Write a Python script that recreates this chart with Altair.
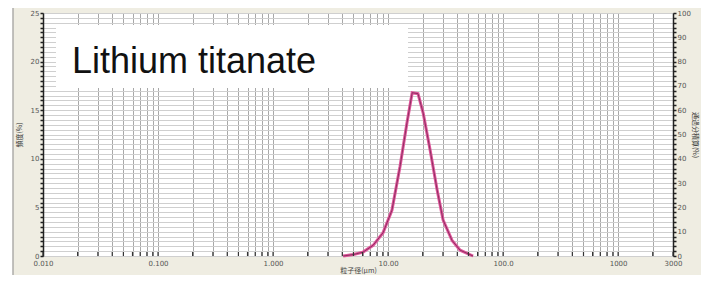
import altair as alt
import pandas as pd

# ---- data ----
sizes_um = [4.07, 5.0, 6.06, 7.41, 9.05, 10.8, 12.7, 14.6, 16.2, 18.2, 20.2, 23.2, 26.7, 30.1, 36.0, 42.3, 54.8]
freq_pct = [0.0, 0.15, 0.4, 1.1, 2.4, 4.7, 9.2, 13.7, 16.8, 16.7, 14.7, 10.9, 6.8, 3.7, 1.6, 0.6, 0.0]

x_domain = [0.01, 3000]
x_ticks = [round(m * 10 ** d, 6) for d in range(-2, 4) for m in range(1, 10) if m * 10 ** d <= 3000]
x_label_values = [0.01, 0.1, 1, 10, 100, 1000, 3000]
x_label_texts = ["0.010", "0.100", "1.000", "10.00", "100.0", "1000", "3000"]

y_left_ticks = [i * 0.5 for i in range(51)]
y_right_ticks = list(range(0, 101, 2))

title_text = "Lithium titanate"
x_title = "粒子径(µm)"
y_left_title = "頻度(%)"
y_right_title = "通過分積算(%)"

W, H = 630, 243

curve = pd.DataFrame({"size": sizes_um, "freq": freq_pct})
ticks_df = pd.DataFrame({"size": x_ticks})
one = pd.DataFrame({"a": [0]})
right_df = pd.DataFrame({"cum": [0, 100]})

xlab_expr = " : ".join(
    f"datum.value == {v} ? '{t}'" for v, t in zip(x_label_values, x_label_texts)
) + " : ''"
yl_expr = "datum.value % 5 == 0 ? format(datum.value, 'd') : ''"
yr_expr = "datum.value % 10 == 0 ? format(datum.value, 'd') : ''"

x_scale = alt.Scale(type="log", domain=x_domain, nice=False)
y_scale = alt.Scale(domain=[0, 25], nice=False, zero=True)

x_axis = alt.Axis(
    values=x_ticks,
    labelExpr=xlab_expr,
    title=x_title,
    grid=True,
    gridColor="#a8a8a8",
    gridWidth=1,
    tickSize=0,
    domain=False,
    labelPadding=3,
    labelFontSize=7,
    labelColor="#555",
    labelFont="DejaVu Sans",
    titleFontSize=7,
    titleFontWeight="normal",
    titleColor="#444",
    titleFont="Noto Sans CJK JP",
    titlePadding=0,
    labelOverlap=False,
    labelFlush=False,
)
y_axis = alt.Axis(
    values=y_left_ticks,
    labelExpr=yl_expr,
    title=y_left_title,
    grid=True,
    gridColor="#cfcfcf",
    gridWidth=1,
    tickSize=3,
    tickColor="#222",
    tickWidth=1.5,
    domainColor="#222",
    domainWidth=1.5,
    labelPadding=1,
    labelFontSize=7,
    labelColor="#555",
    labelFont="DejaVu Sans",
    titleFontSize=7,
    titleFontWeight="normal",
    titleColor="#333",
    titleFont="Noto Sans CJK JP",
    titlePadding=8,
    labelOverlap=False,
)
x_enc = alt.X("size:Q", scale=x_scale, axis=x_axis)
y_enc = alt.Y("freq:Q", scale=y_scale, axis=y_axis)

frame = alt.Chart(one).mark_rect(fillOpacity=0, stroke="#8c8c8c", strokeWidth=1).encode(
    x=alt.value(-30), x2=alt.value(660), y=alt.value(-10), y2=alt.value(275)
)
left_strip = alt.Chart(one).mark_rect(fill="white").encode(
    x=alt.value(-36), x2=alt.value(-30.5), y=alt.value(-6), y2=alt.value(263)
)
title_box = alt.Chart(one).mark_rect(fill="white").encode(
    x=alt.value(13), x2=alt.value(365), y=alt.value(12), y2=alt.value(75)
)
title_mark = alt.Chart(pd.DataFrame({"t": [title_text]})).mark_text(
    align="left", baseline="alphabetic", font="Liberation Sans", fontSize=36, color="#111"
).encode(x=alt.value(29), y=alt.value(60), text="t:N")

line_pink = alt.Chart(curve).mark_line(color="#e0559a", strokeWidth=3).encode(x=x_enc, y=y_enc)
line_dark = alt.Chart(curve).mark_line(color="#6a2048", strokeWidth=1, opacity=0.7).encode(x=x_enc, y=y_enc)
bottom_ticks = alt.Chart(ticks_df).mark_rule(color="#333", strokeWidth=1.2).encode(
    x=x_enc, y=alt.value(H - 4), y2=alt.value(H)
)

right_axis = alt.Chart(right_df).mark_point(opacity=0).encode(
    y=alt.Y(
        "cum:Q",
        scale=alt.Scale(domain=[0, 100], nice=False),
        axis=alt.Axis(
            orient="right",
            values=y_right_ticks,
            labelExpr=yr_expr,
            title=y_right_title,
            grid=False,
            tickSize=3,
            tickColor="#222",
            tickWidth=1.5,
            domainColor="#222",
            domainWidth=1.5,
            labelPadding=1,
            labelFontSize=7,
            labelColor="#555",
            labelFont="DejaVu Sans",
            titleFontSize=7,
            titleFontWeight="normal",
            titleColor="#333",
            titleFont="Noto Sans CJK JP",
            titlePadding=1,
            labelOverlap=False,
        ),
    )
)

main = alt.layer(left_strip, frame, title_box, title_mark, line_pink, line_dark, bottom_ticks)
chart = (
    alt.layer(main, right_axis)
    .resolve_scale(y="independent")
    .properties(
        width=W,
        height=H,
        background="#efede2",
        padding={"left": 35, "top": 5, "right": 28, "bottom": 19},
        autosize=alt.AutoSizeParams(type="none"),
    )
    .configure_view(fill="white", stroke="#9a9a9a", strokeWidth=1)
)

chart.save("out.html", embed_options={"renderer": "svg", "actions": False})
